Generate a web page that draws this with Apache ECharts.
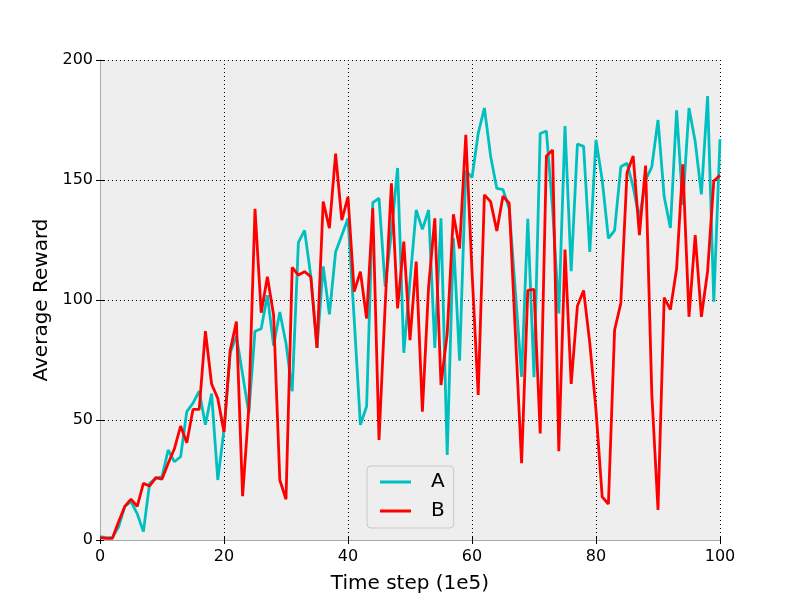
<!DOCTYPE html>
<html>
<head>
<meta charset="utf-8">
<script src="https://cdn.jsdelivr.net/npm/echarts@6/dist/echarts.min.js"></script>
<style>
  html, body { margin: 0; padding: 0; background: #fff; }
  #chart { width: 800px; height: 600px; }
</style>
</head>
<body>
<div id="chart"></div>
<script>
// time steps 0..100 (units of 1e5)
const steps = [];
for (let i = 0; i <= 100; i++) steps.push(i);

const seriesA = [
  1.4, 1, 1, 5.5, 14, 16, 11, 3.5, 23.6, 25.7,
  26.4, 37.5, 32.6, 34.7, 53.5, 57, 62, 48, 61, 25,
  46, 78, 85, 69, 53, 87, 88, 102, 81, 95,
  82, 62, 124, 129, 110, 80, 114, 94, 120, 127,
  134, 92, 48, 55.6, 140.6, 142.4, 105.6, 128, 155, 78,
  108, 137.5, 129.4, 137.5, 80, 134, 35.4, 125.7, 74.7, 154,
  151, 169.4, 180, 160, 146.5, 146, 138, 103.5, 68, 133.8,
  67.8, 169.4, 170.4, 138, 94.4, 172.5, 112, 165, 164, 120,
  166.7, 150, 125.7, 129, 155.5, 157, 147, 134, 150, 155.5,
  175, 143, 130, 179, 139.6, 180, 166, 144, 185, 99.3,
  167
];

const seriesB = [
  1, 0.7, 0.7, 7.6, 14, 17, 14, 23.6, 22.5, 26,
  25.4, 32, 38, 47.5, 40.5, 54.4, 54.4, 87, 65, 59,
  45, 79, 91, 18.3, 55, 138, 94.7, 109.7, 93.8, 25,
  17, 113.6, 110.4, 111.8, 109.7, 80, 141, 129.9, 161, 133.3,
  143, 103.5, 111.8, 92.3, 138.2, 41.7, 98, 148.6, 96.5, 124.3,
  83.3, 116, 53.5, 105.6, 134, 64.6, 86, 135.7, 121.5, 168.8,
  112, 60.4, 143.8, 141, 128.8, 143.3, 140.3, 86, 32, 104,
  104.4, 44.4, 160, 162.5, 37, 121, 65, 97.5, 104, 82,
  54, 18, 15, 87.5, 98.6, 153, 160, 127, 156, 61,
  12.5, 101, 96, 113, 156.5, 93, 127, 93, 112, 149.6,
  152
];

const xTicks = [0, 20, 40, 60, 80, 100];
const yTicks = [0, 50, 100, 150, 200];

const FONT = 'DejaVu Sans';
const pairs = (ys) => steps.map((x, i) => [x, ys[i]]);

const gridLine = { show: true, lineStyle: { color: '#000', type: [1, 3], width: 1 } };
const spine = { show: true, lineStyle: { color: '#a8a8a8', width: 1 } };
const tick = { show: true, inside: true, length: 4, lineStyle: { color: '#000' } };

const chart = echarts.init(document.getElementById('chart'), null, { renderer: 'canvas' });
chart.setOption({
  animation: false,
  backgroundColor: '#ffffff',
  textStyle: { fontFamily: FONT },
  grid: { left: 100, right: 80, top: 60, bottom: 60, show: true, backgroundColor: '#eeeeee', borderWidth: 0 },
  legend: {
    left: 367, top: 466,
    orient: 'vertical',
    icon: 'rect',
    itemWidth: 31, itemHeight: 3,
    itemGap: 9,
    padding: [6, 9, 7, 13],
    backgroundColor: '#eeeeee',
    borderColor: '#c8c8c8', borderWidth: 1, borderRadius: 4,
    textStyle: { fontFamily: FONT, fontSize: 20, color: '#000', lineHeight: 20, padding: [0, 0, 0, 15] },
    data: ['A', 'B']
  },
  xAxis: [{
    type: 'value', min: xTicks[0], max: xTicks[xTicks.length - 1], interval: 20,
    name: 'Time step (1e5)', nameLocation: 'middle', nameGap: 34,
    nameTextStyle: { fontFamily: FONT, fontSize: 20, color: '#000' },
    axisLabel: { fontFamily: FONT, fontSize: 16, color: '#000', margin: 9 },
    axisLine: spine, axisTick: tick, splitLine: gridLine
  }, {
    type: 'value', position: 'top', min: 0, max: 100, interval: 20,
    axisLabel: { show: false }, axisLine: spine, axisTick: tick, splitLine: { show: false }
  }],
  yAxis: [{
    type: 'value', min: yTicks[0], max: yTicks[yTicks.length - 1], interval: 50,
    name: 'Average Reward', nameLocation: 'middle', nameGap: 45,
    nameTextStyle: { fontFamily: FONT, fontSize: 20, color: '#000' },
    axisLabel: { fontFamily: FONT, fontSize: 16, color: '#000', margin: 7 },
    axisLine: spine, axisTick: tick, splitLine: gridLine
  }, {
    type: 'value', position: 'right', min: 0, max: 200, interval: 50,
    axisLabel: { show: false }, axisLine: spine, axisTick: tick, splitLine: { show: false }
  }],
  series: [{
    name: 'A', type: 'line', data: pairs(seriesA),
    showSymbol: false, symbol: 'none',
    itemStyle: { color: '#00bfbf' },
    lineStyle: { color: '#00bfbf', width: 2.8 }
  }, {
    name: 'B', type: 'line', data: pairs(seriesB),
    showSymbol: false, symbol: 'none',
    itemStyle: { color: '#ff0000' },
    lineStyle: { color: '#ff0000', width: 2.8 }
  }]
});
</script>
</body>
</html>
